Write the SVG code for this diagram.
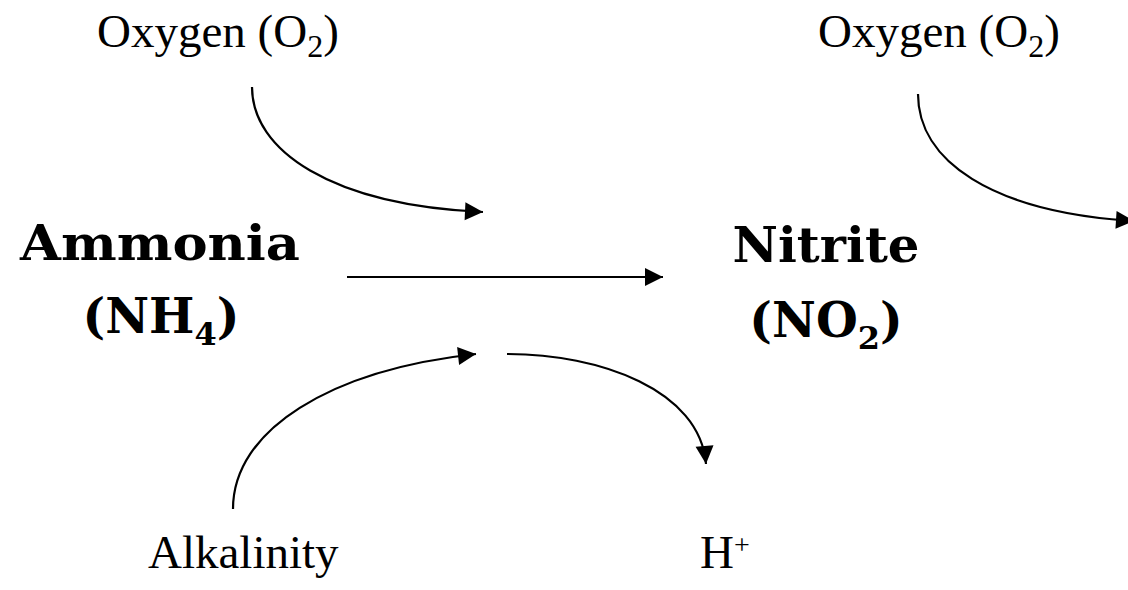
<svg xmlns="http://www.w3.org/2000/svg" width="1128" height="590" viewBox="0 0 1128 590">
  <style>
    .lbl { font-family: "Liberation Serif", "DejaVu Serif", serif; font-size: 47px; fill: #000; }
    .big { font-family: "DejaVu Serif", "Liberation Serif", serif; font-weight: bold; font-size: 48px; fill: #000; text-anchor: middle; }
    .conn { fill: none; stroke: #000; stroke-width: 2.2; }
  </style>
  <defs>
    <marker id="arrow" markerUnits="userSpaceOnUse" viewBox="0 0 20 20" markerWidth="20" markerHeight="20" refX="19" refY="10" orient="auto">
      <path d="M1,1 L19,10 L1,19 Z" fill="#000"/>
    </marker>
  </defs>
  <rect width="1128" height="590" fill="#fff"/>

  <g id="oxygen-left">
    <text class="lbl" x="97" y="47">Oxygen (O<tspan font-size="32" dy="10">2</tspan><tspan dy="-10">)</tspan></text>
  </g>
  <g id="oxygen-right">
    <text class="lbl" x="818" y="47">Oxygen (O<tspan font-size="32" dy="10">2</tspan><tspan dy="-10">)</tspan></text>
  </g>
  <g id="ammonia">
    <text class="big" x="160" y="260" textLength="280" lengthAdjust="spacingAndGlyphs">Ammonia</text>
    <text class="big" x="161" y="333">(NH<tspan font-size="32" dy="12">4</tspan><tspan dy="-12">)</tspan></text>
  </g>
  <g id="nitrite">
    <text class="big" x="826" y="262" textLength="187" lengthAdjust="spacingAndGlyphs">Nitrite</text>
    <text class="big" x="826" y="337">(NO<tspan font-size="32" dy="12">2</tspan><tspan dy="-12">)</tspan></text>
  </g>
  <g id="alkalinity">
    <text class="lbl" x="148" y="568" font-size="46">Alkalinity</text>
  </g>
  <g id="hplus">
    <text class="lbl" x="700" y="568">H<tspan font-size="28" dy="-14">+</tspan></text>
  </g>

  <g id="connectors">
    <path class="conn" d="M347,277 L663,277" marker-end="url(#arrow)"/>
    <path class="conn" d="M252,87 C252,150 330,205 483,212" marker-end="url(#arrow)"/>
    <path class="conn" d="M918,94 C918,160 990,212 1134,221" marker-end="url(#arrow)"/>
    <path class="conn" d="M233,509 C233,430 330,370 476,354" marker-end="url(#arrow)"/>
    <path class="conn" d="M507,354 C600,354 700,390 706,464" marker-end="url(#arrow)"/>
  </g>
</svg>
